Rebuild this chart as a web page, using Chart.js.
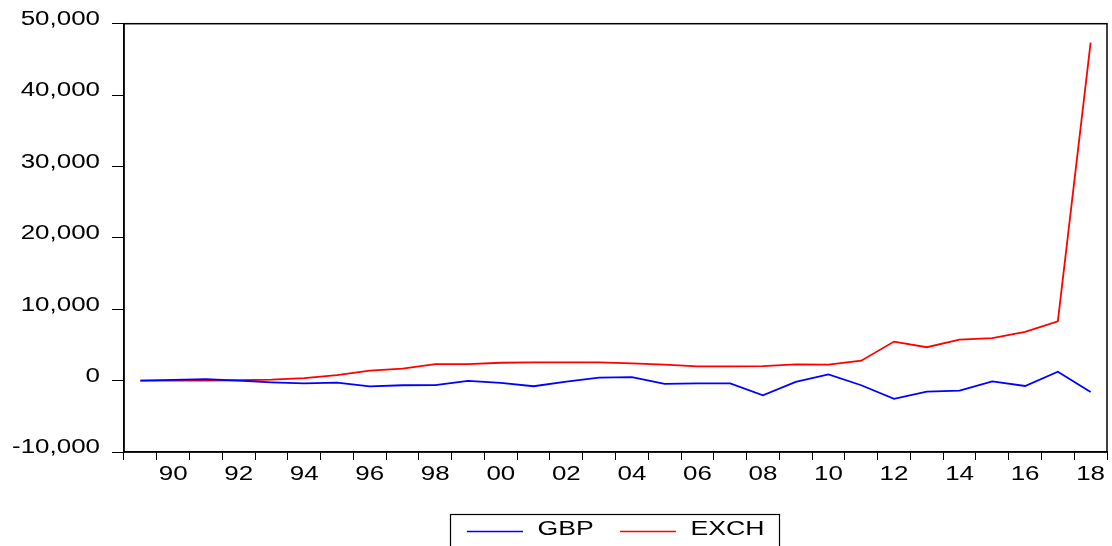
<!DOCTYPE html>
<html>
<head>
<meta charset="utf-8">
<script src="https://cdn.jsdelivr.net/npm/chart.js@4/dist/chart.umd.min.js"></script>
<style>
  html, body { margin: 0; padding: 0; background: #fff; }
  #wrap { width: 1112px; height: 546px; position: relative; }
</style>
</head>
<body>
<div id="wrap"><canvas id="chart" width="1112" height="546"></canvas></div>
<script>
// Annual observations, 1989-2018
const years = [1989, 1990, 1991, 1992, 1993, 1994, 1995, 1996, 1997, 1998,
               1999, 2000, 2001, 2002, 2003, 2004, 2005, 2006, 2007, 2008,
               2009, 2010, 2011, 2012, 2013, 2014, 2015, 2016, 2017, 2018];

const gbp = [0, 100, 200, 0, -240, -380, -290, -800, -650, -620,
             -50, -330, -790, -140, 420, 500, -470, -380, -380, -2050,
             -190, 880, -650, -2560, -1530, -1390, -100, -750, 1250, -1590];

const exch = [0, 0, 0, 50, 140, 360, 780, 1390, 1670, 2310,
              2310, 2500, 2550, 2550, 2550, 2410, 2230, 1990, 1990, 2030,
              2270, 2230, 2790, 5470, 4680, 5750, 5940, 6820, 8300, 47350];

const seriesNames = ['GBP', 'EXCH'];
const seriesColors = ['#0000ff', '#ff0000'];

// value axis range and tick step
const yMin = -10000, yMax = 50000, yStep = 10000;

const TEXT_FAMILY = "'Liberation Sans', Arial, sans-serif";
const TICK_FONT = { family: TEXT_FAMILY, size: 19.5 };
const WIDE = 1.33; // horizontal widening of all text

// Axis text is drawn in a wide face: while the scales paint, every
// fillText call is widened horizontally around its anchor point.
const wideAxisText = {
  id: 'wideAxisText',
  beforeDraw(chart) {
    const ctx = chart.ctx;
    const native = CanvasRenderingContext2D.prototype.fillText;
    ctx.fillText = function (text, x, y, maxWidth) {
      this.save();
      this.translate(x, y);
      this.scale(WIDE, 1);
      native.call(this, text, 0, 0);
      this.restore();
    };
  },
  beforeDatasetsDraw(chart) {
    delete chart.ctx.fillText;
  }
};

// closed black frame around the plot area
const frame = {
  id: 'frame',
  afterDatasetsDraw(chart) {
    const { ctx, chartArea: a } = chart;
    ctx.save();
    ctx.strokeStyle = '#000';
    ctx.lineWidth = 1.5;
    ctx.strokeRect(a.left, a.top, a.right - a.left, a.bottom - a.top);
    ctx.restore();
  }
};

// boxed legend below the axis: line sample followed by the series name
const boxLegend = {
  id: 'boxLegend',
  afterDraw(chart) {
    const ctx = chart.ctx;
    const boxL = 450.5, boxT = 514.5, boxW = 329;
    const lineY = 531.5, baseY = 535;
    const starts = [467, 620];
    ctx.save();
    ctx.strokeStyle = '#000';
    ctx.lineWidth = 1.2;
    ctx.strokeRect(boxL, boxT, boxW, 60);
    chart.data.datasets.forEach((ds, i) => {
      const x0 = starts[i];
      ctx.strokeStyle = ds.borderColor;
      ctx.lineWidth = 1.6;
      ctx.beginPath();
      ctx.moveTo(x0, lineY);
      ctx.lineTo(x0 + 56, lineY);
      ctx.stroke();
      ctx.save();
      ctx.translate(x0 + 70.5, baseY);
      ctx.scale(WIDE, 1);
      ctx.fillStyle = '#000';
      ctx.font = '20px ' + TEXT_FAMILY;
      ctx.textBaseline = 'alphabetic';
      ctx.textAlign = 'left';
      ctx.fillText(ds.label, 0, 0);
      ctx.restore();
    });
    ctx.restore();
  }
};

new Chart(document.getElementById('chart'), {
  type: 'line',
  data: {
    labels: years,
    datasets: [
      { label: seriesNames[0], data: gbp, borderColor: seriesColors[0], borderWidth: 1.8,
        pointRadius: 0, tension: 0, fill: false },
      { label: seriesNames[1], data: exch, borderColor: seriesColors[1], borderWidth: 1.8,
        pointRadius: 0, tension: 0, fill: false }
    ]
  },
  options: {
    responsive: false,
    animation: false,
    events: [],
    layout: { padding: { top: 22, right: 5, bottom: 54, left: 0 } },
    plugins: { legend: { display: false }, tooltip: { enabled: false } },
    scales: {
      x: {
        type: 'category',
        offset: true,
        grid: { offset: true, drawOnChartArea: false, drawTicks: true, tickLength: 8,
                color: '#000', lineWidth: 1 },
        border: { display: true, color: '#000', width: 1.5 },
        ticks: {
          autoSkip: false, maxRotation: 0, minRotation: 0, padding: 3,
          color: '#000', font: TICK_FONT,
          callback(v, i) {
            const y = years[i];
            return y % 2 === 0 ? String(y % 100).padStart(2, '0') : '';
          }
        },
        afterFit(s) { s.height = 40; }
      },
      y: {
        min: yMin, max: yMax,
        grid: { drawOnChartArea: false, drawTicks: true, tickLength: 12,
                color: '#000', lineWidth: 1 },
        border: { display: true, color: '#000', width: 1.5 },
        ticks: {
          stepSize: yStep, padding: 12, labelOffset: -4,
          color: '#000', font: TICK_FONT,
          callback(v) { return Number(v).toLocaleString('en-US'); }
        },
        afterFit(s) { s.width = 124; }
      }
    }
  },
  plugins: [wideAxisText, frame, boxLegend]
});
</script>
</body>
</html>
